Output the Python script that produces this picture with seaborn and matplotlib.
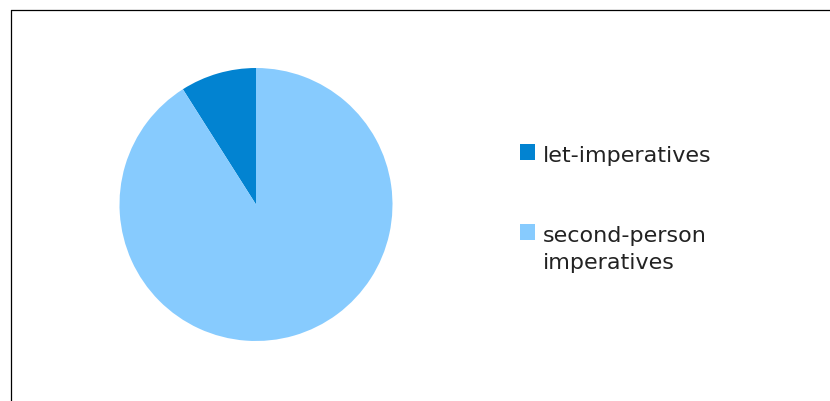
import matplotlib
matplotlib.use("Agg")
import matplotlib.pyplot as plt
from matplotlib.patches import Rectangle
from matplotlib.lines import Line2D
import seaborn as sns

# Share of imperative types
categories = ["let-imperatives", "second-person imperatives"]
legend_lines = [["let-imperatives"], ["second-person", "imperatives"]]
shares = [9, 91]
colors = sns.color_palette(["#0283D1", "#87CBFE"])

sns.set_theme(style="white")
plt.rcParams["font.family"] = ["DejaVu Sans"]

W, H = 830, 402
fig = plt.figure(figsize=(W / 100, H / 100), dpi=100)
fig.patch.set_facecolor("white")

def px_box(x0, y0, w, h):
    """Convert a pixel box (top-left origin) to figure fractions."""
    return [x0 / W, 1 - (y0 + h) / H, w / W, h / H]

# Pie
cx, cy, r = 256, 205.5, 136.5
ax = fig.add_axes(px_box(cx - r, cy - r, 2 * r, 2 * r))
ax.pie(shares, colors=colors, startangle=90, counterclock=True,
       wedgeprops=dict(linewidth=0))
ax.set_xlim(-1, 1)
ax.set_ylim(-1, 1)
ax.set_aspect("equal")
ax.axis("off")

# Chart frame (left and top edges visible)
fx = 10.5 / W
fy = 1 - 10.5 / H
fig.add_artist(Line2D([fx, fx], [fy, -0.05], transform=fig.transFigure,
                      color="black", linewidth=0.9))
fig.add_artist(Line2D([fx, 1.05], [fy, fy], transform=fig.transFigure,
                      color="black", linewidth=0.9))

# Legend
sq_x, sq_w, sq_h = 519.5, 15, 16
rows_top = [145, 225]
baselines = [162, 242]
line_step = 27
for color, lines, top, base in zip(colors, legend_lines, rows_top, baselines):
    b = px_box(sq_x, top, sq_w, sq_h)
    fig.add_artist(Rectangle((b[0], b[1]), b[2], b[3], transform=fig.transFigure,
                             facecolor=color, edgecolor="none"))
    for i, line in enumerate(lines):
        fig.text(543 / W, 1 - (base + i * line_step) / H, line, fontsize=16,
                 color="#222222", ha="left", va="baseline")

fig.savefig("out.png", dpi=100, facecolor="white")
